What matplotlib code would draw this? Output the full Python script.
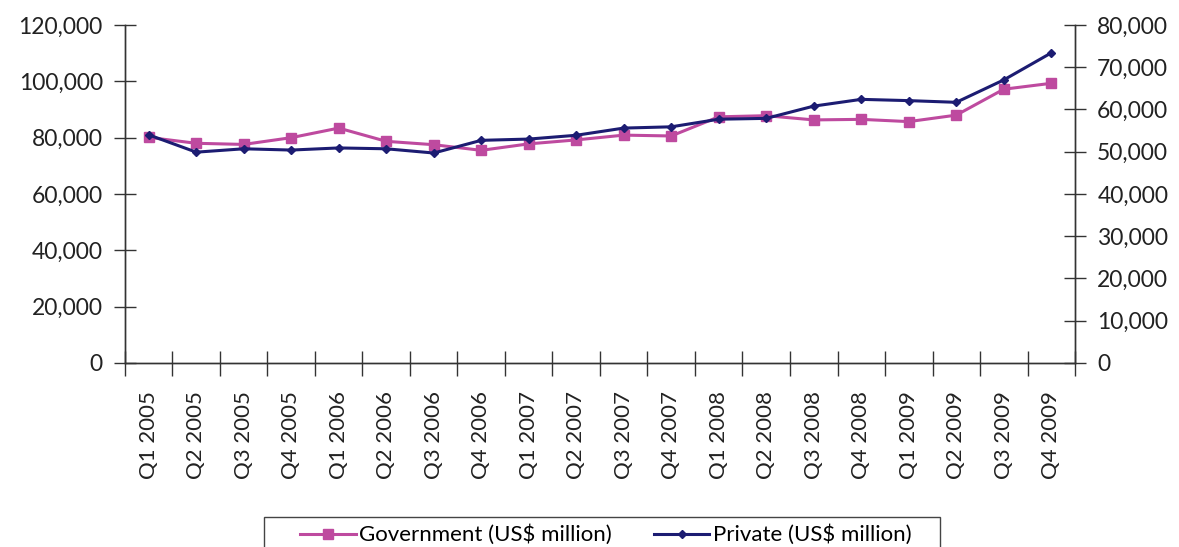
import matplotlib
matplotlib.use("Agg")
import matplotlib.pyplot as plt
from matplotlib.ticker import FuncFormatter, FixedLocator
from matplotlib.patches import Rectangle
import numpy as np

# 四半期ラベル
quarters = ["Q1 2005", "Q2 2005", "Q3 2005", "Q4 2005",
            "Q1 2006", "Q2 2006", "Q3 2006", "Q4 2006",
            "Q1 2007", "Q2 2007", "Q3 2007", "Q4 2007",
            "Q1 2008", "Q2 2008", "Q3 2008", "Q4 2008",
            "Q1 2009", "Q2 2009", "Q3 2009", "Q4 2009"]
# 政府 (左軸, US$ million)
government = [80100, 78000, 77600, 80000, 83400, 78700, 77500, 75500,
              77800, 79200, 80900, 80600, 87400, 87800, 86300, 86500,
              85700, 88000, 97200, 99300]
# 民間 (右軸, US$ million)
private = [54000, 49900, 50700, 50400, 50900, 50700, 49700, 52700,
           53000, 53900, 55600, 55900, 57700, 57900, 60800, 62400,
           62100, 61700, 67000, 73400]

pink = "#BE4A9F"
navy = "#1C1C72"
plt.rcParams["font.family"] = ["Lato", "DejaVu Sans"]

fig = plt.figure(figsize=(11.79, 5.47), dpi=100)
ax = fig.add_axes([0.106, 0.3364, 0.8058, 0.6179])
ax2 = ax.twinx()

x = np.arange(len(quarters))
l1, = ax.plot(x, government, color=pink, lw=2.2, marker="s", ms=7,
              label="Government (US$ million)", zorder=3)
l2, = ax2.plot(x, private, color=navy, lw=2.2, marker="D", ms=4.5,
               label="Private (US$ million)", zorder=3)

ax.set_xlim(-0.5, len(quarters) - 0.5)
ax.set_ylim(0, 120000)
ax2.set_ylim(0, 80000)
ax.set_yticks(np.arange(0, 120001, 20000))
ax2.set_yticks(np.arange(0, 80001, 10000))
fmt = FuncFormatter(lambda v, p: "{:,.0f}".format(v))
ax.yaxis.set_major_formatter(fmt)
ax2.yaxis.set_major_formatter(fmt)

# 目盛り線は区切り位置、ラベルは中央
ax.xaxis.set_major_locator(FixedLocator(np.arange(-0.5, len(quarters), 1.0)))
ax.xaxis.set_major_formatter(FuncFormatter(lambda v, p: ""))
ax.xaxis.set_minor_locator(FixedLocator(x))
ax.set_xticklabels(quarters, minor=True, rotation=90)
ax.tick_params(axis="x", which="major", direction="inout", length=18, width=1, color="#333333")
ax.tick_params(axis="x", which="minor", length=0, pad=20, labelsize=16, labelcolor="#222222")
ax.tick_params(axis="y", direction="inout", length=16, width=1, color="#333333",
               labelsize=16.5, labelcolor="#222222", pad=8)
ax2.tick_params(axis="y", direction="inout", length=16, width=1, color="#333333",
                labelsize=16.5, labelcolor="#222222", pad=8)

for a in (ax, ax2):
    a.spines["top"].set_visible(False)
    for s in ("left", "right", "bottom"):
        a.spines[s].set_color("#333333")
        a.spines[s].set_linewidth(1)

# 凡例の枠
fig.patches.append(Rectangle((264 / 1179, -0.05), 676 / 1179, 0.1048,
                             transform=fig.transFigure, fill=False,
                             edgecolor="#444444", lw=1))
leg = fig.legend(handles=[l1, l2], loc="center left", ncol=2,
                 bbox_to_anchor=(300 / 1179, 0.022), frameon=False,
                 prop={"size": 16}, handlelength=2.5, handletextpad=0.15,
                 columnspacing=1.9, borderpad=0, borderaxespad=0)

fig.savefig("out.png", dpi=100)
